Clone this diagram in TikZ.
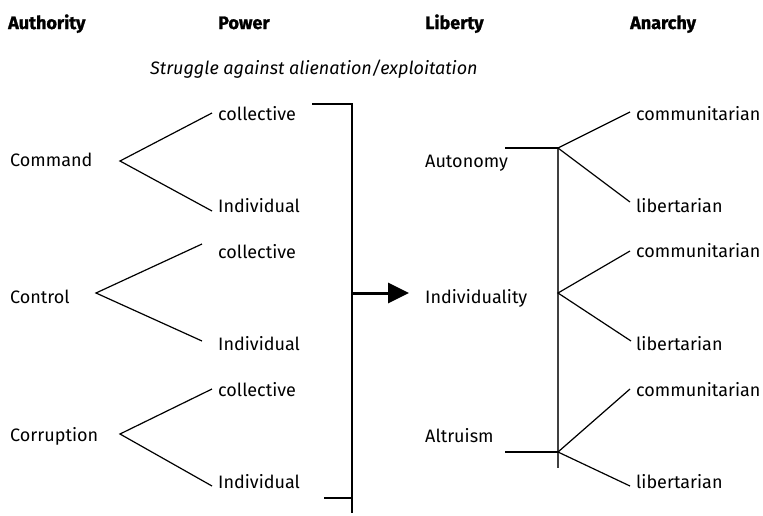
\documentclass[tikz,border=0pt]{standalone}
\usepackage{fontspec}
\setmainfont{Fira Sans}
\newfontfamily\hdrfont[BoldFeatures={FakeBold=1.3}]{Fira Sans}
\usetikzlibrary{arrows.meta}
\begin{document}
\begin{tikzpicture}[x=1pt,y=-1pt,
  lbl/.style={anchor=base west,inner sep=0pt,font=\fontsize{18}{22}\selectfont},
  hdr/.style={anchor=base west,inner sep=0pt,font=\hdrfont\fontsize{18}{22}\selectfont\bfseries},
  sub/.style={anchor=base west,inner sep=0pt,font=\fontsize{18}{22}\selectfont\itshape},
  ln/.style={line width=1.2pt,black},
  gln/.style={line width=1.4pt,black!75},
  bigarrow/.style={line width=3pt,-{Triangle[length=21pt,width=20pt]}}]
\useasboundingbox (0,0) rectangle (763,515);
% headers
\node[hdr] (h1) at (8,29) {Authority};
\node[hdr] (h2) at (218,29) {Power};
\node[hdr] (h3) at (425,29) {Liberty};
\node[hdr] (h4) at (630,29) {Anarchy};
\node[sub] (st) at (150,74) {Struggle against alienation/exploitation};
% left labels
\node[lbl] (cmd) at (10,166) {Command};
\node[lbl] (ctl) at (10,303) {Control};
\node[lbl] (cor) at (10,441) {Corruption};
\node[lbl] (c1) at (218,120) {collective};
\node[lbl] (i1) at (218,212) {Individual};
\node[lbl] (c2) at (218,258) {collective};
\node[lbl] (i2) at (218,350) {Individual};
\node[lbl] (c3) at (218,396) {collective};
\node[lbl] (i3) at (218,488) {Individual};
% right labels
\node[lbl] (aut) at (425,167) {Autonomy};
\node[lbl] (ind) at (425,303) {Individuality};
\node[lbl] (alt) at (425,442) {Altruism};
\node[lbl] (m1) at (636,120) {communitarian};
\node[lbl] (l1) at (636,212) {libertarian};
\node[lbl] (m2) at (636,257) {communitarian};
\node[lbl] (l2) at (636,350) {libertarian};
\node[lbl] (m3) at (636,396) {communitarian};
\node[lbl] (l3) at (636,488) {libertarian};
% branch points and ends (left)
\coordinate (bcmd) at (120,161);
\coordinate (ec1) at (212,113);
\coordinate (ei1) at (212,211);
\coordinate (bctl) at (96,293);
\coordinate (ec2) at (202,244);
\coordinate (ei2) at (202,341);
\coordinate (bcor) at (120,434);
\coordinate (ec3) at (212,389);
\coordinate (ei3) at (212,486);
\draw[ln] (ec1) -- (bcmd) -- (ei1);
\draw[ln] (ec2) -- (bctl) -- (ei2);
\draw[ln] (ec3) -- (bcor) -- (ei3);
% bracket
\coordinate (bt0) at (312,104);
\coordinate (bt1) at (352,104);
\coordinate (bb0) at (324,498);
\coordinate (bb1) at (352,498);
\coordinate (bend) at (352,513);
\draw[ln] (bt0) -- (bt1) -- (bend);
\draw[ln] (bb0) -- (bb1);
% arrow
\coordinate (a0) at (352,293);
\coordinate (a1) at (409,293);
\draw[bigarrow] (a0) -- (a1);
% right structure
\coordinate (raut0) at (505,148);
\coordinate (raut) at (558,148);
\coordinate (rind) at (558,293);
\coordinate (ralt0) at (505,452);
\coordinate (ralt) at (558,452);
\coordinate (rend) at (558,468);
\draw[gln] (raut) -- (rend);
\draw[ln] (raut0) -- (raut);
\draw[ln] (ralt0) -- (ralt);
\coordinate (em1) at (630,112);
\coordinate (el1) at (630,202);
\coordinate (em2) at (630,251);
\coordinate (el2) at (631,341);
\coordinate (em3) at (630,389);
\coordinate (el3) at (630,486);
\draw[ln] (em1) -- (raut) -- (el1);
\draw[ln] (em2) -- (rind) -- (el2);
\draw[ln] (em3) -- (ralt) -- (el3);
\end{tikzpicture}
\end{document}
